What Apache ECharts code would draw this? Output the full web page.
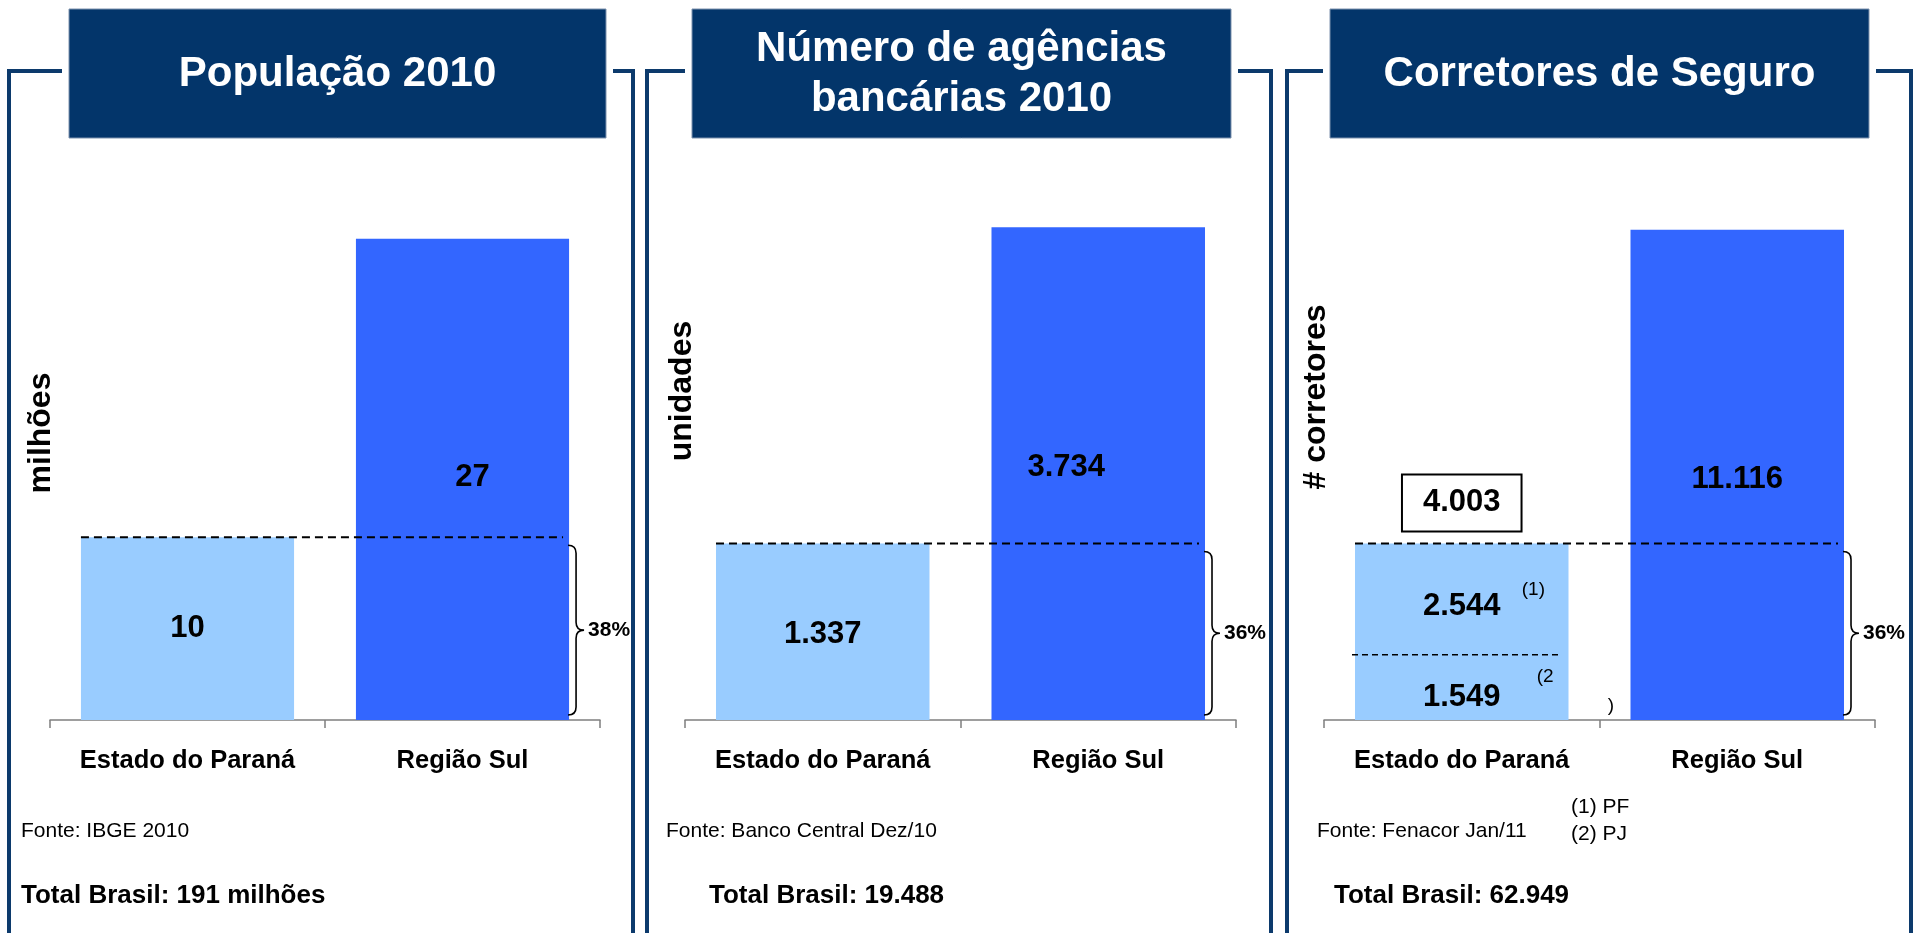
<!DOCTYPE html>
<html>
<head>
<meta charset="utf-8">
<script src="https://cdn.jsdelivr.net/npm/echarts@6/dist/echarts.min.js"></script>
<style>
html,body{margin:0;padding:0;background:#fff;}
#c{width:1914px;height:933px;}
</style>
</head>
<body>
<div id="c"></div>
<script>
// ---------- data ----------
const categories = ['Estado do Paraná', 'Região Sul'];
const populacao = [10.4, 27.4];          // milhões (rótulos arredondados: 10, 27)
const agencias = [1337, 3734];           // unidades
const corretores = [4003, 11116];        // # corretores
const corretoresPF = 2544;               // (1) PF
const corretoresPJ = 1549;               // (2) PJ
const sharePct = [38, 36, 36];
const yMax = [29.6, 3940, 11790];
const titles = ['População 2010', 'Número de agências\nbancárias 2010', 'Corretores de Seguro'];
const yNames = ['milhões', 'unidades', '# corretores'];
const fontes = ['Fonte: IBGE 2010', 'Fonte: Banco Central Dez/10', 'Fonte: Fenacor Jan/11'];
const totals = ['Total Brasil: 191 milhões', 'Total Brasil: 19.488', 'Total Brasil: 62.949'];
const footnotes = ['(1) PF', '(2) PJ'];

// ---------- style / layout ----------
const FONT = '"Liberation Sans", Arial, Helvetica, sans-serif';
const NAVY = '#03356A';
const FRAME = '#0C3A6C';
const LIGHT = '#99CCFF';
const DARK = '#3366FF';
const BAR_RATIO = 0.775;
const gridLeft = [50, 685, 1324];
const gridWidth = [550, 551, 551];
const gridTop = 200, gridH = 520;
const frameL = [9, 647, 1287];
const frameR = [633, 1271, 1911];
const boxX = [69, 692, 1330];
const boxW = [537, 539, 539];
const boxY = 9, boxH = 129, frameY = 71;
const yNamePos = [[41, 433], [682, 391], [1316, 397]];
const fontePos = [[21, 831], [666, 831], [1317, 831]];
const totalPos = [[21, 896], [709, 896], [1334, 896]];
// manual nudges of the value labels, as placed in the original slide
const labelOffsets = [[[0, 0], [10, -2]], [[0, 3], [-32, -6]], [[0, 0], [0, 5]]];

function fmt(n) {
  return String(Math.round(n)).replace(/\B(?=(\d{3})+(?!\d))/g, '.');
}

const chart = echarts.init(document.getElementById('c'), null, {renderer: 'canvas'});

const panelValues = [populacao, agencias, corretores];

const grids = [], xAxes = [], yAxes = [], series = [];
for (let p = 0; p < 3; p++) {
  grids.push({left: gridLeft[p], width: gridWidth[p], top: gridTop, height: gridH});
  xAxes.push({
    type: 'category', gridIndex: p, data: categories,
    axisLine: {lineStyle: {color: '#7F7F7F', width: 1.5}},
    axisTick: {show: true, length: 8, lineStyle: {color: '#7F7F7F', width: 1.5}},
    axisLabel: {interval: 0, hideOverlap: false, color: '#000', fontFamily: FONT, fontWeight: 'bold',
                fontSize: 25.5, margin: 26, lineHeight: 30}
  });
  yAxes.push({type: 'value', gridIndex: p, min: 0, max: yMax[p], show: false, splitLine: {show: false}});

  const vals = panelValues[p];
  series.push({
    type: 'bar', xAxisIndex: p, yAxisIndex: p, barWidth: (BAR_RATIO * 100) + '%',
    silent: true, z: 2,
    data: vals.map((v, i) => {
      const item = {value: v, itemStyle: {color: i === 0 ? LIGHT : DARK},
                    label: {offset: labelOffsets[p][i]}};
      if (p === 2 && i === 0) {
        item.label = {
          show: true, position: 'top', distance: 13,
          formatter: () => fmt(v),
          color: '#000', fontFamily: FONT, fontWeight: 'bold', fontSize: 31, lineHeight: 31,
          backgroundColor: '#fff', borderColor: '#000', borderWidth: 2, padding: [12, 20]
        };
      }
      return item;
    }),
    label: {
      show: true, position: 'inside',
      formatter: (d) => fmt(d.value),
      color: '#000', fontFamily: FONT, fontWeight: 'bold', fontSize: 31
    }
  });

  // dashed comparison line + brace + share
  series.push({
    type: 'custom', xAxisIndex: p, yAxisIndex: p, silent: true, z: 10,
    encode: {x: 0, y: 1},
    data: [[0, vals[0], sharePct[p]]],
    renderItem: function (params, api) {
      const light = api.value(1);
      const pct = api.value(2);
      const band = api.size([1, 0])[0];
      const bw = band * BAR_RATIO;
      const c0 = api.coord([0, light]);
      const c1 = api.coord([1, light]);
      const b1 = api.coord([1, 0]);
      const xL = c0[0] - bw / 2;
      const xR = c1[0] + bw / 2;
      const y = c0[1];
      const x0 = xR - 1, w = 16, r = 8;
      const yT = y + 8, yB = b1[1] - 5, yM = (yT + yB) / 2;
      const xm = x0 + w / 2;
      const path = 'M' + x0 + ' ' + yT +
        ' Q' + xm + ' ' + yT + ' ' + xm + ' ' + (yT + r) +
        ' L' + xm + ' ' + (yM - r) +
        ' Q' + xm + ' ' + yM + ' ' + (x0 + w) + ' ' + yM +
        ' Q' + xm + ' ' + yM + ' ' + xm + ' ' + (yM + r) +
        ' L' + xm + ' ' + (yB - r) +
        ' Q' + xm + ' ' + yB + ' ' + x0 + ' ' + yB;
      return {
        type: 'group',
        children: [
          {type: 'line', shape: {x1: xL, y1: y, x2: xR - 6, y2: y},
           style: {stroke: '#000', lineWidth: 2, lineDash: [8, 5], fill: null}},
          {type: 'path', shape: {pathData: path},
           style: {stroke: '#000', lineWidth: 1.6, fill: null}},
          {type: 'text', x: x0 + w + 4, y: yM,
           style: {text: pct + '%', fill: '#000', font: 'bold 21px ' + FONT, textAlign: 'left', textVerticalAlign: 'middle'}}
        ]
      };
    }
  });
}

// split of Paraná brokers (PF / PJ)
series.push({
  type: 'custom', xAxisIndex: 2, yAxisIndex: 2, silent: true, z: 10,
  encode: {x: 0, y: 1},
  data: [[0, corretoresPJ, corretoresPF, corretores[0]]],
  renderItem: function (params, api) {
    const pj = api.value(1), pf = api.value(2), total = api.value(3);
    const band = api.size([1, 0])[0];
    const bw = band * BAR_RATIO;
    const cDiv = api.coord([0, pj]);
    const cTop = api.coord([0, total]);
    const cBase = api.coord([0, 0]);
    const cx = cDiv[0];
    const yPJ = (cDiv[1] + cBase[1]) / 2 + 12;
    const yPF = (cDiv[1] + cTop[1]) / 2 + 9;
    const numFont = 'bold 31px ' + FONT;
    const noteFont = '19px ' + FONT;
    return {
      type: 'group',
      children: [
        {type: 'line', shape: {x1: cx - bw / 2 - 3, y1: cDiv[1] + 3, x2: cx + bw / 2 - 7, y2: cDiv[1] + 3},
         style: {stroke: '#000', lineWidth: 1.5, lineDash: [6, 4], fill: null}},
        {type: 'text', x: cx, y: yPF,
         style: {text: fmt(pf), fill: '#000', font: numFont, textAlign: 'center', textVerticalAlign: 'middle'}},
        {type: 'text', x: cx, y: yPJ,
         style: {text: fmt(pj), fill: '#000', font: numFont, textAlign: 'center', textVerticalAlign: 'middle'}},
        {type: 'text', x: cx + 60, y: yPF - 17,
         style: {text: '(1)', fill: '#000', font: noteFont, textAlign: 'left', textVerticalAlign: 'middle'}},
        {type: 'text', x: cx + 75, y: yPJ - 21,
         style: {text: '(2', fill: '#000', font: noteFont, textAlign: 'left', textVerticalAlign: 'middle'}},
        {type: 'text', x: cx + 146, y: yPJ + 8,
         style: {text: ')', fill: '#000', font: noteFont, textAlign: 'left', textVerticalAlign: 'middle'}}
      ]
    };
  }
});

// ---------- decorations ----------
const graphics = [];
for (let p = 0; p < 3; p++) {
  graphics.push({
    type: 'polyline', silent: true, z: 1,
    shape: {points: [[frameL[p], 940], [frameL[p], frameY], [boxX[p] - 7, frameY]]},
    style: {stroke: FRAME, lineWidth: 4, fill: null}
  });
  graphics.push({
    type: 'polyline', silent: true, z: 1,
    shape: {points: [[boxX[p] + boxW[p] + 7, frameY], [frameR[p], frameY], [frameR[p], 940]]},
    style: {stroke: FRAME, lineWidth: 4, fill: null}
  });
  graphics.push({
    type: 'rect', silent: true, z: 2,
    shape: {x: boxX[p], y: boxY, width: boxW[p], height: boxH},
    style: {fill: NAVY, stroke: '#7E93AE', lineWidth: 1}
  });
  graphics.push({
    type: 'text', silent: true, z: 3,
    x: boxX[p] + boxW[p] / 2, y: boxY + boxH / 2 + 1,
    style: {text: titles[p], fill: '#fff', font: 'bold 42px ' + FONT, lineHeight: 50,
            textAlign: 'center', textVerticalAlign: 'middle'}
  });
  graphics.push({
    type: 'text', silent: true, z: 3,
    x: yNamePos[p][0], y: yNamePos[p][1], rotation: Math.PI / 2,
    style: {text: yNames[p], fill: '#000', font: 'bold 32px ' + FONT,
            textAlign: 'center', textVerticalAlign: 'middle'}
  });
  graphics.push({
    type: 'text', silent: true, z: 3,
    x: fontePos[p][0], y: fontePos[p][1],
    style: {text: fontes[p], fill: '#000', font: '21px ' + FONT, textAlign: 'left', textVerticalAlign: 'middle'}
  });
  graphics.push({
    type: 'text', silent: true, z: 3,
    x: totalPos[p][0], y: totalPos[p][1],
    style: {text: totals[p], fill: '#000', font: 'bold 26px ' + FONT, textAlign: 'left', textVerticalAlign: 'middle'}
  });
}
graphics.push({
  type: 'text', silent: true, z: 3, x: 1571, y: 821,
  style: {text: footnotes.join('\n'), fill: '#000', font: '21px ' + FONT, lineHeight: 27,
          textAlign: 'left', textVerticalAlign: 'middle'}
});

chart.setOption({
  animation: false,
  backgroundColor: '#fff',
  grid: grids,
  xAxis: xAxes,
  yAxis: yAxes,
  series: series,
  graphic: graphics
});
</script>
</body>
</html>
